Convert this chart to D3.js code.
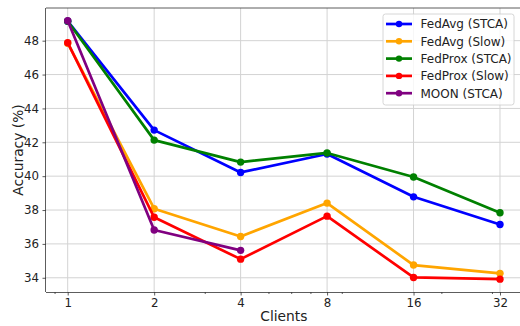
<!DOCTYPE html>
<html>
<head>
<meta charset="utf-8">
<script src="https://cdn.jsdelivr.net/npm/d3@7"></script>
<style>
  html, body { margin: 0; padding: 0; background: #fff; }
  svg { display: block; font-family: "DejaVu Sans", sans-serif; }
</style>
</head>
<body>
<svg id="chart" width="520" height="326"></svg>
<script>
// Number of clients (x axis, log2 scale)
const clients = [1, 2, 4, 8, 16, 32];
const xTickLabels = ["1", "2", "4", "8", "16", "32"];
const xMinorTicks = [0.9, 3, 5, 6, 7, 9, 20, 30];
const yTicks = [34, 36, 38, 40, 42, 44, 46, 48];

// Accuracy (%) per method
const seriesNames = ["FedAvg (STCA)", "FedAvg (Slow)", "FedProx (STCA)", "FedProx (Slow)", "MOON (STCA)"];
const seriesColors = ["#0000ff", "#ffa500", "#008000", "#ff0000", "#800080"];
const fedAvgStca  = [49.15, 42.72, 40.22, 41.31, 38.78, 37.15];
const fedAvgSlow  = [47.85, 38.08, 36.44, 38.41, 34.75, 34.26];
const fedProxStca = [49.15, 42.13, 40.83, 41.37, 39.95, 37.84];
const fedProxSlow = [47.88, 37.57, 35.10, 37.64, 34.02, 33.92];
const moonStca    = [49.18, 36.82, 35.62];

const seriesValues = [fedAvgStca, fedAvgSlow, fedProxStca, fedProxSlow, moonStca];

const svg = d3.select("#chart");
const plotLeft = 46, plotRight = 521.7, plotTop = 8, plotBottom = 292;

const x = d3.scaleLog().base(2)
  .domain([Math.pow(2, -0.251), Math.pow(2, 5.251)])
  .range([plotLeft, plotRight]);
const y = d3.scaleLinear().domain([33.16, 49.93]).range([plotBottom, plotTop]);

// grid
const grid = svg.append("g").attr("stroke", "#d3d3d3").attr("stroke-width", 1);
clients.forEach(c => grid.append("line")
  .attr("x1", x(c)).attr("x2", x(c)).attr("y1", plotTop).attr("y2", plotBottom));
yTicks.forEach(t => grid.append("line")
  .attr("x1", plotLeft).attr("x2", plotRight).attr("y1", y(t)).attr("y2", y(t)));

// axes
const xAxis = d3.axisBottom(x).tickValues(clients)
  .tickFormat((d, i) => xTickLabels[i]).tickSize(3.5).tickPadding(3.5);
const gx = svg.append("g").attr("transform", `translate(0,${plotBottom})`).call(xAxis);
const xMinor = d3.axisBottom(x).tickValues(xMinorTicks).tickFormat("").tickSize(2);
const gxm = svg.append("g").attr("transform", `translate(0,${plotBottom})`).call(xMinor);
gxm.select(".domain").remove();

const yAxis = d3.axisLeft(y).tickValues(yTicks).tickSize(3.5).tickPadding(3.5);
const gy = svg.append("g").attr("transform", `translate(${plotLeft},0)`).call(yAxis);

[gx, gy, gxm].forEach(g => {
  g.selectAll("line").attr("stroke", "#333").attr("stroke-width", 0.8);
  g.select(".domain").attr("stroke", "#333").attr("stroke-width", 0.8);
  g.selectAll("text").attr("fill", "#222").style("font-size", "11.8px")
    .style("font-family", "DejaVu Sans, sans-serif");
});
gx.select(".domain").attr("d", `M${plotLeft},0.5H${plotRight}`);
gy.select(".domain").attr("d", `M-0.5,${plotTop}V${plotBottom}`);

// top spine
svg.append("line").attr("x1", plotLeft).attr("x2", plotRight).attr("y1", plotTop).attr("y2", plotTop)
  .attr("stroke", "#333").attr("stroke-width", 0.8);

// axis labels
svg.append("text").attr("x", (plotLeft + plotRight) / 2).attr("y", 321)
  .attr("text-anchor", "middle").style("font-size", "13.8px").attr("fill", "#222")
  .text("Clients");
svg.append("text")
  .attr("transform", `translate(18,${(plotTop + plotBottom) / 2}) rotate(-90)`)
  .attr("text-anchor", "middle").attr("dy", "0.35em")
  .style("font-size", "13.8px").attr("fill", "#222")
  .text("Accuracy (%)");

// series lines and markers
const line = d3.line().x(d => x(d[0])).y(d => y(d[1]));
seriesValues.forEach((vals, i) => {
  const pts = vals.map((v, j) => [clients[j], v]);
  svg.append("path").datum(pts).attr("d", line)
    .attr("fill", "none").attr("stroke", seriesColors[i]).attr("stroke-width", 2.7)
    .attr("stroke-linejoin", "round");
  svg.append("g").selectAll("circle").data(pts).join("circle")
    .attr("cx", d => x(d[0])).attr("cy", d => y(d[1])).attr("r", 3.7)
    .attr("fill", seriesColors[i]);
});

// legend
const lg = svg.append("g");
lg.append("rect").attr("x", 383).attr("y", 14).attr("width", 131).attr("height", 91)
  .attr("rx", 2.5).attr("fill", "#fff").attr("fill-opacity", 0.8)
  .attr("stroke", "#ccc").attr("stroke-width", 0.8);
seriesNames.forEach((name, i) => {
  const ly = 24 + i * 17.3;
  lg.append("line").attr("x1", 386).attr("x2", 412).attr("y1", ly).attr("y2", ly)
    .attr("stroke", seriesColors[i]).attr("stroke-width", 2.7);
  lg.append("circle").attr("cx", 399).attr("cy", ly).attr("r", 3.2).attr("fill", seriesColors[i]);
  lg.append("text").attr("x", 420.5).attr("y", ly).attr("dy", "0.36em")
    .style("font-size", "12px").attr("fill", "#222").text(name);
});
</script>
</body>
</html>
